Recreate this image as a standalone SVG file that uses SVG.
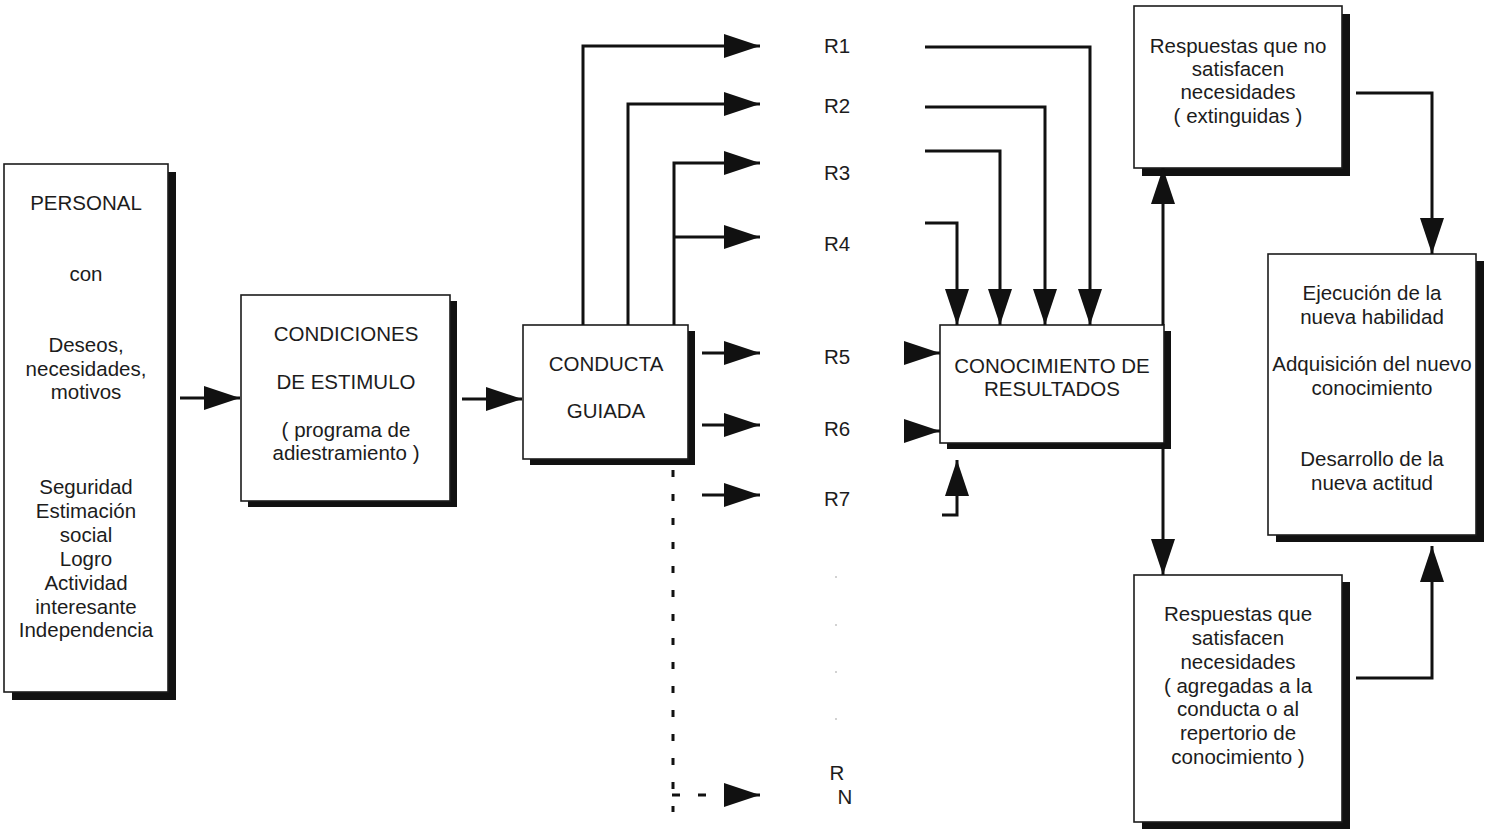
<svg xmlns="http://www.w3.org/2000/svg" width="1485" height="837" viewBox="0 0 1485 837">
  <style>
    text { font-family: "Liberation Sans", Arial, sans-serif; font-size: 20.5px; fill: #1c1c1c; text-anchor: middle; }
    .box { fill: #ffffff; stroke: #1c1c1c; stroke-width: 1.6; }
    .shadow { fill: #111111; }
    .wire { fill: none; stroke: #111111; stroke-width: 3; }
    .dots { fill: none; stroke: #111111; stroke-width: 3; stroke-dasharray: 7 17; }
  </style>
  <defs>
    <marker id="ah" viewBox="0 0 36 24" refX="36" refY="12" markerWidth="36" markerHeight="24" markerUnits="userSpaceOnUse" orient="auto">
      <path d="M0,0 L36,12 L0,24 Z" fill="#111111"/>
    </marker>
  </defs>

  <rect width="1485" height="837" fill="#ffffff"/>

  <!-- Personal -->
  <g id="personal">
    <rect class="shadow" x="12" y="172" width="164" height="528"/>
    <rect class="box" x="4" y="164" width="164" height="528"/>
    <text x="86" y="210">PERSONAL</text>
    <text x="86" y="281">con</text>
    <text x="86" y="352">Deseos,</text>
    <text x="86" y="376">necesidades,</text>
    <text x="86" y="399">motivos</text>
    <text x="86" y="494">Seguridad</text>
    <text x="86" y="518">Estimación</text>
    <text x="86" y="542">social</text>
    <text x="86" y="566">Logro</text>
    <text x="86" y="590">Actividad</text>
    <text x="86" y="614">interesante</text>
    <text x="86" y="637">Independencia</text>
  </g>

  <!-- Condiciones de estimulo -->
  <g id="condiciones">
    <rect class="shadow" x="248" y="301" width="209" height="206"/>
    <rect class="box" x="241" y="295" width="209" height="206"/>
    <text x="346" y="341">CONDICIONES</text>
    <text x="346" y="389">DE ESTIMULO</text>
    <text x="346" y="437">( programa de</text>
    <text x="346" y="460">adiestramiento )</text>
  </g>

  <!-- Conducta guiada -->
  <g id="conducta">
    <rect class="shadow" x="530" y="331" width="165" height="134"/>
    <rect class="box" x="523" y="325" width="165" height="134"/>
    <text x="606" y="371">CONDUCTA</text>
    <text x="606" y="418">GUIADA</text>
  </g>

  <!-- Response labels -->
  <g id="respuestas">
    <text x="837" y="53">R1</text>
    <text x="837" y="113">R2</text>
    <text x="837" y="180">R3</text>
    <text x="837" y="251">R4</text>
    <text x="837" y="364">R5</text>
    <text x="837" y="436">R6</text>
    <text x="837" y="506">R7</text>
    <text x="837" y="780">R</text>
    <text x="845" y="804">N</text>
    <g fill="#9a9a9a">
      <circle cx="836" cy="577" r="0.8"/>
      <circle cx="836" cy="625" r="0.8"/>
      <circle cx="836" cy="672" r="0.8"/>
      <circle cx="836" cy="719" r="0.8"/>
    </g>
  </g>

  <!-- Conocimiento de resultados -->
  <g id="conocimiento">
    <rect class="shadow" x="947" y="331" width="224" height="118"/>
    <rect class="box" x="940" y="325" width="224" height="118"/>
    <text x="1052" y="373">CONOCIMIENTO DE</text>
    <text x="1052" y="396">RESULTADOS</text>
  </g>

  <!-- Respuestas que no satisfacen -->
  <g id="no-satisfacen">
    <rect class="shadow" x="1142" y="14" width="208" height="162"/>
    <rect class="box" x="1134" y="6" width="208" height="162"/>
    <text x="1238" y="53">Respuestas que no</text>
    <text x="1238" y="76">satisfacen</text>
    <text x="1238" y="99">necesidades</text>
    <text x="1238" y="123">( extinguidas )</text>
  </g>

  <!-- Resultados del aprendizaje -->
  <g id="resultado">
    <rect class="shadow" x="1276" y="261" width="208" height="281"/>
    <rect class="box" x="1268" y="254" width="208" height="281"/>
    <text x="1372" y="300">Ejecución de la</text>
    <text x="1372" y="324">nueva habilidad</text>
    <text x="1372" y="371">Adquisición del nuevo</text>
    <text x="1372" y="395">conocimiento</text>
    <text x="1372" y="466">Desarrollo de la</text>
    <text x="1372" y="490">nueva actitud</text>
  </g>

  <!-- Respuestas que satisfacen -->
  <g id="satisfacen">
    <rect class="shadow" x="1142" y="582" width="208" height="247"/>
    <rect class="box" x="1134" y="575" width="208" height="247"/>
    <text x="1238" y="621">Respuestas que</text>
    <text x="1238" y="645">satisfacen</text>
    <text x="1238" y="669">necesidades</text>
    <text x="1238" y="693">( agregadas a la</text>
    <text x="1238" y="716">conducta o al</text>
    <text x="1238" y="740">repertorio de</text>
    <text x="1238" y="764">conocimiento )</text>
  </g>

  <!-- Connectors -->
  <g id="conectores">
    <path class="wire" d="M180,398 H240" marker-end="url(#ah)"/>
    <path class="wire" d="M462,399 H522" marker-end="url(#ah)"/>

    <path class="wire" d="M583,325 V46 H760" marker-end="url(#ah)"/>
    <path class="wire" d="M628,325 V104 H760" marker-end="url(#ah)"/>
    <path class="wire" d="M674,325 V163 H760" marker-end="url(#ah)"/>
    <path class="wire" d="M674,237 H760" marker-end="url(#ah)"/>
    <path class="wire" d="M702,353 H760" marker-end="url(#ah)"/>
    <path class="wire" d="M702,425 H760" marker-end="url(#ah)"/>
    <path class="wire" d="M702,495 H760" marker-end="url(#ah)"/>
    <path class="dots" d="M673,470 V812"/>
    <path class="wire" d="M698,795 H706"/>
    <path class="wire" d="M672,795 H680"/>
    <path class="wire" d="M724,795 H760" marker-end="url(#ah)"/>

    <path class="wire" d="M925,47 H1090 V325" marker-end="url(#ah)"/>
    <path class="wire" d="M925,107 H1045 V325" marker-end="url(#ah)"/>
    <path class="wire" d="M925,151 H1000 V325" marker-end="url(#ah)"/>
    <path class="wire" d="M925,223 H957 V325" marker-end="url(#ah)"/>
    <path class="wire" d="M904,353 H940" marker-end="url(#ah)"/>
    <path class="wire" d="M904,431 H940" marker-end="url(#ah)"/>
    <path class="wire" d="M942,515 H957 V460" marker-end="url(#ah)"/>

    <path class="wire" d="M1163,325 V168" marker-end="url(#ah)"/>
    <path class="wire" d="M1163,443 V575" marker-end="url(#ah)"/>

    <path class="wire" d="M1356,93 H1432 V254" marker-end="url(#ah)"/>
    <path class="wire" d="M1356,678 H1432 V546" marker-end="url(#ah)"/>
  </g>
</svg>
